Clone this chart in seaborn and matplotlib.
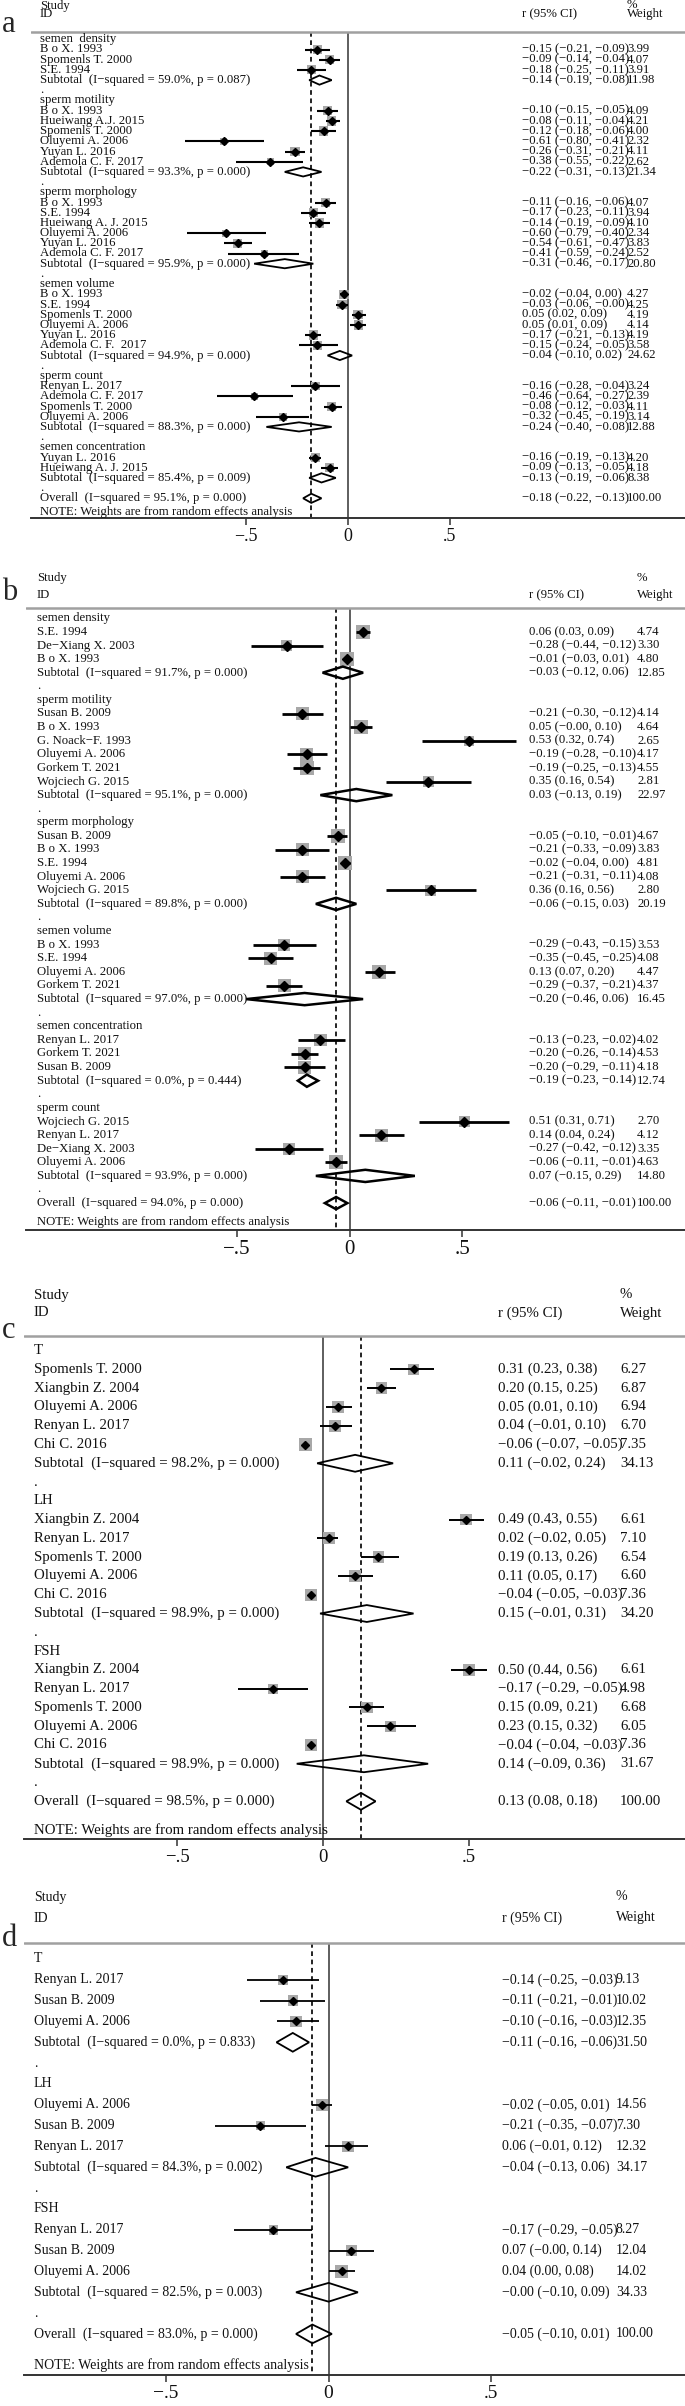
import numpy as np
import pandas as pd
import matplotlib
matplotlib.use('Agg')
import matplotlib.pyplot as plt
import seaborn as sns
from matplotlib import transforms

sns.set_style('white')
plt.rcParams['font.family'] = ['Liberation Serif', 'DejaVu Serif']

# ---------------- panel a : semen parameters (1) ----------------
a_group = (['semen  density'] * 3 + ['sperm motility'] * 6 + ['sperm morphology'] * 6 +
           ['semen volume'] * 6 + ['sperm count'] * 4 + ['semen concentration'] * 2)
a_study = ['B o X. 1993', 'Spomenls T. 2000', 'S.E. 1994',
           'B o X. 1993', 'Hueiwang A.J. 2015', 'Spomenls T. 2000', 'Oluyemi A. 2006', 'Yuyan L. 2016', 'Ademola C. F. 2017',
           'B o X. 1993', 'S.E. 1994', 'Hueiwang A. J. 2015', 'Oluyemi A. 2006', 'Yuyan L. 2016', 'Ademola C. F. 2017',
           'B o X. 1993', 'S.E. 1994', 'Spomenls T. 2000', 'Oluyemi A. 2006', 'Yuyan L. 2016', 'Ademola C. F.  2017',
           'Renyan L. 2017', 'Ademola C. F. 2017', 'Spomenls T. 2000', 'Oluyemi A. 2006',
           'Yuyan L. 2016', 'Hueiwang A. J. 2015']
a_r = [-0.15, -0.09, -0.18,
       -0.10, -0.08, -0.12, -0.61, -0.26, -0.38,
       -0.11, -0.17, -0.14, -0.60, -0.54, -0.41,
       -0.02, -0.03, 0.05, 0.05, -0.17, -0.15,
       -0.16, -0.46, -0.08, -0.32,
       -0.16, -0.09]
a_lo = [-0.21, -0.14, -0.25,
        -0.15, -0.11, -0.18, -0.80, -0.31, -0.55,
        -0.16, -0.23, -0.19, -0.79, -0.61, -0.59,
        -0.04, -0.06, 0.02, 0.01, -0.21, -0.24,
        -0.28, -0.64, -0.12, -0.45,
        -0.19, -0.13]
a_hi = [-0.09, -0.04, -0.11,
        -0.05, -0.04, -0.06, -0.41, -0.21, -0.22,
        -0.06, -0.11, -0.09, -0.40, -0.47, -0.24,
        0.00, -0.00, 0.09, 0.09, -0.13, -0.05,
        -0.04, -0.27, -0.03, -0.19,
        -0.13, -0.05]
a_w = [3.99, 4.07, 3.91,
       4.09, 4.21, 4.00, 2.32, 4.11, 2.62,
       4.07, 3.94, 4.10, 2.34, 3.83, 2.52,
       4.27, 4.25, 4.19, 4.14, 4.19, 3.58,
       3.24, 2.39, 4.11, 3.14,
       4.20, 4.18]
a_sub_name = ['semen  density', 'sperm motility', 'sperm morphology', 'semen volume', 'sperm count', 'semen concentration']
a_sub_r = [-0.14, -0.22, -0.31, -0.04, -0.24, -0.13]
a_sub_lo = [-0.19, -0.31, -0.46, -0.10, -0.40, -0.19]
a_sub_hi = [-0.08, -0.13, -0.17, 0.02, -0.08, -0.06]
a_sub_w = [11.98, 21.34, 20.80, 24.62, 12.88, 8.38]
a_sub_i2 = [59.0, 93.3, 95.9, 94.9, 88.3, 85.4]
a_sub_p = [0.087, 0.000, 0.000, 0.000, 0.000, 0.009]
a_overall = [-0.18, -0.22, -0.13, 100.00, 95.1, 0.000]

# ---------------- panel b : semen parameters (2) ----------------
b_group = (['semen density'] * 3 + ['sperm motility'] * 6 + ['sperm morphology'] * 5 +
           ['semen volume'] * 4 + ['semen concentration'] * 3 + ['sperm count'] * 4)
b_study = ['S.E. 1994', 'De−Xiang X. 2003', 'B o X. 1993',
           'Susan B. 2009', 'B o X. 1993', 'G. Noack−F. 1993', 'Oluyemi A. 2006', 'Gorkem T. 2021', 'Wojciech G. 2015',
           'Susan B. 2009', 'B o X. 1993', 'S.E. 1994', 'Oluyemi A. 2006', 'Wojciech G. 2015',
           'B o X. 1993', 'S.E. 1994', 'Oluyemi A. 2006', 'Gorkem T. 2021',
           'Renyan L. 2017', 'Gorkem T. 2021', 'Susan B. 2009',
           'Wojciech G. 2015', 'Renyan L. 2017', 'De−Xiang X. 2003', 'Oluyemi A. 2006']
b_r = [0.06, -0.28, -0.01,
       -0.21, 0.05, 0.53, -0.19, -0.19, 0.35,
       -0.05, -0.21, -0.02, -0.21, 0.36,
       -0.29, -0.35, 0.13, -0.29,
       -0.13, -0.20, -0.20,
       0.51, 0.14, -0.27, -0.06]
b_lo = [0.03, -0.44, -0.03,
        -0.30, -0.00, 0.32, -0.28, -0.25, 0.16,
        -0.10, -0.33, -0.04, -0.31, 0.16,
        -0.43, -0.45, 0.07, -0.37,
        -0.23, -0.26, -0.29,
        0.31, 0.04, -0.42, -0.11]
b_hi = [0.09, -0.12, 0.01,
        -0.12, 0.10, 0.74, -0.10, -0.13, 0.54,
        -0.01, -0.09, 0.00, -0.11, 0.56,
        -0.15, -0.25, 0.20, -0.21,
        -0.02, -0.14, -0.11,
        0.71, 0.24, -0.12, -0.01]
b_w = [4.74, 3.30, 4.80,
       4.14, 4.64, 2.65, 4.17, 4.55, 2.81,
       4.67, 3.83, 4.81, 4.08, 2.80,
       3.53, 4.08, 4.47, 4.37,
       4.02, 4.53, 4.18,
       2.70, 4.12, 3.35, 4.63]
b_sub_name = ['semen density', 'sperm motility', 'sperm morphology', 'semen volume', 'semen concentration', 'sperm count']
b_sub_r = [-0.03, 0.03, -0.06, -0.20, -0.19, 0.07]
b_sub_lo = [-0.12, -0.13, -0.15, -0.46, -0.23, -0.15]
b_sub_hi = [0.06, 0.19, 0.03, 0.06, -0.14, 0.29]
b_sub_w = [12.85, 22.97, 20.19, 16.45, 12.74, 14.80]
b_sub_i2 = [91.7, 95.1, 89.8, 97.0, 0.0, 93.9]
b_sub_p = [0.000, 0.000, 0.000, 0.000, 0.444, 0.000]
b_overall = [-0.06, -0.11, -0.01, 100.00, 94.0, 0.000]

# ---------------- panel c : hormones (1) ----------------
c_group = ['T'] * 5 + ['LH'] * 5 + ['FSH'] * 5
c_study = ['Spomenls T. 2000', 'Xiangbin Z. 2004', 'Oluyemi A. 2006', 'Renyan L. 2017', 'Chi C. 2016',
           'Xiangbin Z. 2004', 'Renyan L. 2017', 'Spomenls T. 2000', 'Oluyemi A. 2006', 'Chi C. 2016',
           'Xiangbin Z. 2004', 'Renyan L. 2017', 'Spomenls T. 2000', 'Oluyemi A. 2006', 'Chi C. 2016']
c_r = [0.31, 0.20, 0.05, 0.04, -0.06,
       0.49, 0.02, 0.19, 0.11, -0.04,
       0.50, -0.17, 0.15, 0.23, -0.04]
c_lo = [0.23, 0.15, 0.01, -0.01, -0.07,
        0.43, -0.02, 0.13, 0.05, -0.05,
        0.44, -0.29, 0.09, 0.15, -0.04]
c_hi = [0.38, 0.25, 0.10, 0.10, -0.05,
        0.55, 0.05, 0.26, 0.17, -0.03,
        0.56, -0.05, 0.21, 0.32, -0.03]
c_w = [6.27, 6.87, 6.94, 6.70, 7.35,
       6.61, 7.10, 6.54, 6.60, 7.36,
       6.61, 4.98, 6.68, 6.05, 7.36]
c_sub_name = ['T', 'LH', 'FSH']
c_sub_r = [0.11, 0.15, 0.14]
c_sub_lo = [-0.02, -0.01, -0.09]
c_sub_hi = [0.24, 0.31, 0.36]
c_sub_w = [34.13, 34.20, 31.67]
c_sub_i2 = [98.2, 98.9, 98.9]
c_sub_p = [0.000, 0.000, 0.000]
c_overall = [0.13, 0.08, 0.18, 100.00, 98.5, 0.000]

# ---------------- panel d : hormones (2) ----------------
d_group = ['T'] * 3 + ['LH'] * 3 + ['FSH'] * 3
d_study = ['Renyan L. 2017', 'Susan B. 2009', 'Oluyemi A. 2006',
           'Oluyemi A. 2006', 'Susan B. 2009', 'Renyan L. 2017',
           'Renyan L. 2017', 'Susan B. 2009', 'Oluyemi A. 2006']
d_r = [-0.14, -0.11, -0.10, -0.02, -0.21, 0.06, -0.17, 0.07, 0.04]
d_lo = [-0.25, -0.21, -0.16, -0.05, -0.35, -0.01, -0.29, -0.00, 0.00]
d_hi = [-0.03, -0.01, -0.03, 0.01, -0.07, 0.12, -0.05, 0.14, 0.08]
d_w = [9.13, 10.02, 12.35, 14.56, 7.30, 12.32, 8.27, 12.04, 14.02]
d_sub_name = ['T', 'LH', 'FSH']
d_sub_r = [-0.11, -0.04, -0.00]
d_sub_lo = [-0.16, -0.13, -0.10]
d_sub_hi = [-0.06, 0.06, 0.09]
d_sub_w = [31.50, 34.17, 34.33]
d_sub_i2 = [0.0, 84.3, 82.5]
d_sub_p = [0.833, 0.002, 0.003]
d_overall = [-0.05, -0.10, 0.01, 100.00, 83.0, 0.000]

W, H = 685, 2406

# layout of each panel in pixels of the final image
lay = {
    'a': dict(top=0, axis=518, left=31, zero=348, unit=204, y0=39.3, step=10.2,
              study_y=5.5, id_y=14, hdr=32, note=512, lab_y=25, lab_x=40, ci_x=522, w_x=627,
              fs=9.2, tick_fs=13, sq=11.0, pt=3.6, lw=1.5, dlw=1.3),
    'b': dict(top=565, axis=1230, left=26, zero=349.6, unit=225, y0=618.3, step=13.6,
              study_y=578, id_y=595, hdr=608, note=1222, lab_y=592, lab_x=37, ci_x=529, w_x=637,
              fs=9.2, tick_fs=15, sq=21.0, pt=5.0, lw=2.0, dlw=1.8),
    'c': dict(top=1280, axis=1839, left=24, zero=323, unit=292, y0=1350.6, step=18.78,
              study_y=1295, id_y=1313, hdr=1336, note=1830, lab_y=1331, lab_x=34, ci_x=498, w_x=620,
              fs=10.7, tick_fs=13.5, sq=10.5, pt=3.6, lw=1.4, dlw=1.3),
    'd': dict(top=1885, axis=2375, left=24, zero=328.6, unit=325.6, y0=1959, step=20.83,
              study_y=1897, id_y=1918, hdr=1943, note=2365, lab_y=1939, lab_x=34, ci_x=501.6, w_x=616,
              fs=10, tick_fs=14, sq=5.6, pt=3.6, lw=1.3, dlw=1.3),
}


def fmt(v):
    return f'{v:.2f}'.replace('-', '−')


def build(group, study, r, lo, hi, w, sname, sr, slo, shi, sw, si2, sp, overall):
    recs = []
    i = 0
    for k, g in enumerate(sname):
        recs.append(dict(kind='head', label=g, row=i)); i += 1
        for j, gg in enumerate(group):
            if gg == g:
                recs.append(dict(kind='study', label=study[j], r=r[j], lo=lo[j], hi=hi[j], w=w[j], row=i)); i += 1
        recs.append(dict(kind='sub', label=f'Subtotal  (I−squared = {si2[k]:.1f}%, p = {sp[k]:.3f})',
                         r=sr[k], lo=slo[k], hi=shi[k], w=sw[k], row=i)); i += 1
        recs.append(dict(kind='dot', label='.', row=i)); i += 1
    o = overall
    recs.append(dict(kind='sub', label=f'Overall  (I−squared = {o[4]:.1f}%, p = {o[5]:.3f})',
                     r=o[0], lo=o[1], hi=o[2], w=o[3], row=i))
    return pd.DataFrame(recs)


def forest(fig, L, df, letter):
    yrow = lambda px: (px - L['y0']) / L['step']
    ax = fig.add_axes([L['left'] / W, 1 - L['axis'] / H, 1 - L['left'] / W, (L['axis'] - L['top']) / H])
    ax.set_xlim((L['left'] - L['zero']) / L['unit'], (W - L['zero']) / L['unit'])
    ax.set_ylim(yrow(L['axis']), yrow(L['top']))
    tr = transforms.blended_transform_factory(fig.transFigure, ax.transData)

    def put(xpx, y, s):
        ax.text(xpx / W, y, s, transform=tr, ha='left', va='center', fontsize=L['fs'], color='#111111')

    st = df[df.kind == 'study']
    su = df[df.kind == 'sub']
    overall_r = su.r.iloc[-1]

    # reference lines
    ax.axhline(yrow(L['hdr']), color='#a0a0a0', lw=1.8)
    ax.vlines(0, yrow(L['hdr']), yrow(L['axis']), color='#333333', lw=1.1, zorder=1)
    ax.vlines(overall_r, yrow(L['hdr']), yrow(L['axis']), color='#111111', lw=1.3,
              linestyles=(0, (2.6, 2.0)), zorder=1)

    # study markers: grey weight squares, CI lines and point estimates
    wmax = st.w.max()
    sns.scatterplot(data=st, x='r', y='row', size='w', size_norm=(0, wmax), sizes=(0, L['sq'] * wmax),
                    marker='s', color='#a8a8a8', linewidth=0, legend=False, ax=ax, zorder=2)
    ax.hlines(st.row, st.lo, st.hi, color='black', lw=L['lw'], zorder=3)
    ax.plot(st.r, st.row, 'D', color='black', ms=L['pt'], zorder=4)

    # pooled diamonds
    h = 0.45
    for _, s in su.iterrows():
        ax.fill([s.lo, s.r, s.hi, s.r], [s.row, s.row - h, s.row, s.row + h],
                facecolor='none', edgecolor='black', lw=L['dlw'], zorder=3)

    # text columns
    for _, s in df.iterrows():
        put(L['lab_x'], s.row, s.label)
        if s.kind in ('study', 'sub'):
            put(L['ci_x'], s.row, f'{fmt(s.r)} ({fmt(s.lo)}, {fmt(s.hi)})')
            put(L['w_x'], s.row, f'{s.w:.2f}')
    put(L['lab_x'], yrow(L['note']), 'NOTE: Weights are from random effects analysis')
    put(L['lab_x'], yrow(L['study_y']), 'Study')
    put(L['lab_x'], yrow(L['id_y']), 'ID')
    put(L['ci_x'], yrow(L['id_y']), 'r (95% CI)')
    put(L['w_x'], yrow(L['study_y']), '%')
    put(L['w_x'], yrow(L['id_y']), 'Weight')
    fig.text(2 / W, 1 - L['lab_y'] / H, letter, fontsize=22, va='center', ha='left')

    # x axis
    for sp in ['top', 'left', 'right']:
        ax.spines[sp].set_visible(False)
    ax.spines['bottom'].set_color('#333333')
    ax.spines['bottom'].set_linewidth(1.4)
    ax.set_xticks([-0.5, 0, 0.5])
    ax.set_xticklabels(['−.5', '0', '.5'])
    ax.tick_params(axis='x', bottom=True, direction='out', length=5, width=1.1, color='#333333',
                   labelsize=L['tick_fs'], pad=2.5, labelcolor='#111111')
    ax.set_yticks([])
    ax.set_xlabel('')
    ax.set_ylabel('')
    ax.patch.set_alpha(0)


fig = plt.figure(figsize=(W / 100, H / 100), dpi=100)
panels = {
    'a': build(a_group, a_study, a_r, a_lo, a_hi, a_w, a_sub_name, a_sub_r, a_sub_lo, a_sub_hi,
               a_sub_w, a_sub_i2, a_sub_p, a_overall),
    'b': build(b_group, b_study, b_r, b_lo, b_hi, b_w, b_sub_name, b_sub_r, b_sub_lo, b_sub_hi,
               b_sub_w, b_sub_i2, b_sub_p, b_overall),
    'c': build(c_group, c_study, c_r, c_lo, c_hi, c_w, c_sub_name, c_sub_r, c_sub_lo, c_sub_hi,
               c_sub_w, c_sub_i2, c_sub_p, c_overall),
    'd': build(d_group, d_study, d_r, d_lo, d_hi, d_w, d_sub_name, d_sub_r, d_sub_lo, d_sub_hi,
               d_sub_w, d_sub_i2, d_sub_p, d_overall),
}
for k, df in panels.items():
    forest(fig, lay[k], df, k)

fig.savefig('out.png', dpi=100, facecolor='white')
